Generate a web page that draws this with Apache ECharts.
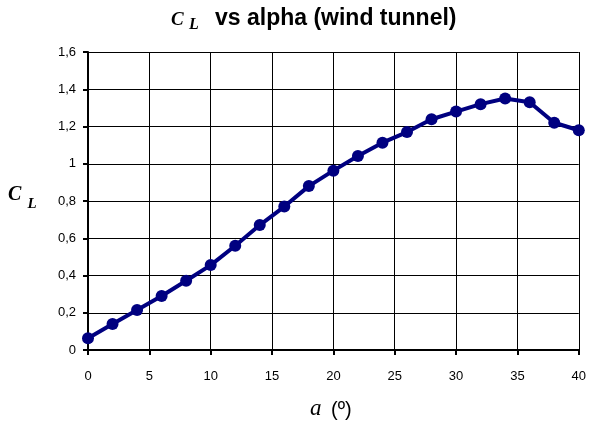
<!DOCTYPE html>
<html>
<head>
<meta charset="utf-8">
<script src="https://cdn.jsdelivr.net/npm/echarts@6/dist/echarts.min.js"></script>
<style>html,body{margin:0;padding:0;background:#fff;}#c{width:589px;height:422px;}</style>
</head>
<body>
<div id="c"></div>
<script>
var alphaDeg = [0,2,4,6,8,10,12,14,16,18,20,22,24,26,28,30,32,34,36,38,40];
var clValues = [0.063,0.14,0.215,0.29,0.372,0.456,0.56,0.671,0.77,0.88,0.963,1.042,1.113,1.17,1.239,1.28,1.32,1.35,1.33,1.22,1.18];
var xTicks = [0,5,10,15,20,25,30,35,40];
var yTicks = [0,0.2,0.4,0.6,0.8,1,1.2,1.4,1.6];

var chart = echarts.init(document.getElementById('c'), null, {renderer:'canvas'});
var data = alphaDeg.map(function(a,i){return [a, clValues[i]];});
function txt(text, x, y, font){
  return {type:'text', silent:true, style:{text:text, x:x, y:y, font:font, fill:'#000', align:'left', verticalAlign:'middle'}};
}
chart.setOption({
  animation:false,
  backgroundColor:'#fff',
  grid:{left:88, right:9, top:52, bottom:72, containLabel:false},
  xAxis:{
    type:'value', min:0, max:40, interval:5,
    axisLine:{show:true, onZero:false, lineStyle:{color:'#000', width:2}},
    axisTick:{show:true, length:5, lineStyle:{color:'#000', width:2}},
    axisLabel:{color:'#000', fontFamily:'Liberation Sans', fontSize:13, margin:20},
    splitLine:{show:true, lineStyle:{color:'#000', width:1}}
  },
  yAxis:{
    type:'value', min:0, max:1.6, interval:0.2,
    axisLine:{show:true, lineStyle:{color:'#000', width:2}},
    axisTick:{show:true, length:5, lineStyle:{color:'#000', width:2}},
    axisLabel:{color:'#000', fontFamily:'Liberation Sans', fontSize:13, margin:12,
      formatter:function(v){return String(+v.toFixed(1)).replace('.',',');}},
    splitLine:{show:true, lineStyle:{color:'#000', width:1}}
  },
  graphic:[
    txt('C', 171, 19.8, 'italic bold 19px "Liberation Serif"'),
    txt('L', 189, 25, 'italic bold 16px "Liberation Serif"'),
    txt('vs alpha (wind tunnel)', 215, 18.2, 'bold 23px "Liberation Sans"'),
    txt('C', 8, 194.9, 'italic bold 20px "Liberation Serif"'),
    txt('L', 27.5, 204.2, 'italic bold 15px "Liberation Serif"'),
    txt('a', 310, 408.9, 'italic 23px "Liberation Serif"'),
    txt('(º)', 331, 410.6, '20px "Liberation Sans"')
  ],
  series:[{
    type:'line', data:data, smooth:false,
    lineStyle:{color:'#000080', width:4},
    itemStyle:{color:'#000080'},
    symbol:'circle', symbolSize:12, clip:false
  }]
});
</script>
</body>
</html>
